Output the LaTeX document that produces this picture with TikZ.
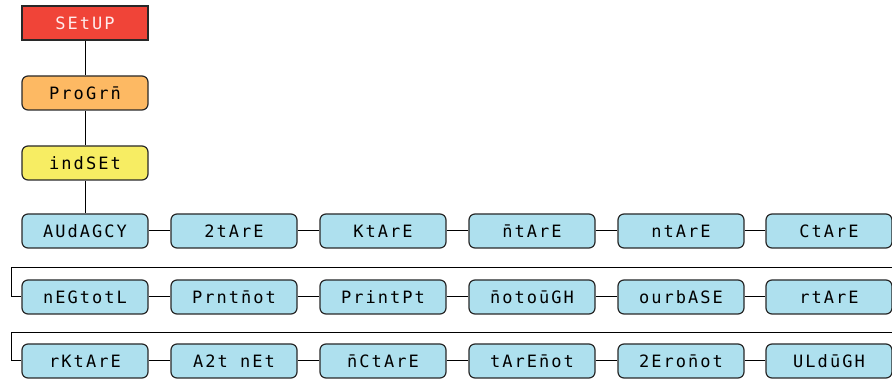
\documentclass[tikz,border=0pt]{standalone}
\usepackage{fontspec}
\newfontfamily\segfont[LetterSpace=12]{DejaVu Sans Mono}
\definecolor{setupred}{RGB}{240,68,56}
\definecolor{progorange}{RGB}{253,185,99}
\definecolor{indyellow}{RGB}{247,237,99}
\definecolor{menublue}{RGB}{174,224,238}
\definecolor{boxline}{RGB}{40,40,40}
\tikzset{
  menubox/.style={draw=boxline, line width=1.2pt, rounded corners=6pt,
    minimum width=126pt, minimum height=34pt, inner sep=0pt,
    font=\segfont\fontsize{17}{17}\selectfont, text=black},
  topbox/.style={menubox, rounded corners=0pt, fill=setupred, text=white!92!red},
  orbox/.style={menubox, fill=progorange},
  yebox/.style={menubox, fill=indyellow},
  blbox/.style={menubox, fill=menublue},
  link/.style={draw=black, line width=1pt}
}
\begin{document}
\begin{tikzpicture}[x=1pt,y=-1pt]
\useasboundingbox (0,0) rectangle (892,379);
\node[topbox] (setup) at (85,23) {SEtUP};
\node[orbox] (progrm) at (85,93) {ProGrn̄};
\node[yebox] (indset) at (85,163) {indSEt};
% row 1
\node[blbox] (a1) at (85,231) {AUdAGCY};
\node[blbox] (a2) at (234,231) {2tArE};
\node[blbox] (a3) at (383,231) {KtArE};
\node[blbox] (a4) at (532,231) {n̄tArE};
\node[blbox] (a5) at (681,231) {ntArE};
\node[blbox] (a6) at (829,231) {CtArE};
% row 2
\node[blbox] (b1) at (85,297) {nEGtotL};
\node[blbox] (b2) at (234,297) {Prntn̄ot};
\node[blbox] (b3) at (383,297) {PrintPt};
\node[blbox] (b4) at (532,297) {n̄otoūGH};
\node[blbox] (b5) at (681,297) {ourbASE};
\node[blbox] (b6) at (829,297) {rtArE};
% row 3
\node[blbox] (c1) at (85,361) {rKtArE};
\node[blbox] (c2) at (234,361) {A2t nEt};
\node[blbox] (c3) at (383,361) {n̄CtArE};
\node[blbox] (c4) at (532,361) {tArEn̄ot};
\node[blbox] (c5) at (681,361) {2Eron̄ot};
\node[blbox] (c6) at (829,361) {ULdūGH};
% wrap coordinates
\coordinate (w1end) at (893,268);
\coordinate (w1turn) at (11,268);
\coordinate (w2end) at (893,333);
\coordinate (w2turn) at (11,333);
% connectors
\draw[link] (setup) -- (progrm);
\draw[link] (progrm) -- (indset);
\draw[link] (indset) -- (a1);
\foreach \r in {a,b,c}{
  \draw[link] (\r1) -- (\r2);
  \draw[link] (\r2) -- (\r3);
  \draw[link] (\r3) -- (\r4);
  \draw[link] (\r4) -- (\r5);
  \draw[link] (\r5) -- (\r6);
}
\draw[link] (w1end) -- (w1turn) |- (b1.west);
\draw[link] (w2end) -- (w2turn) |- (c1.west);
\end{tikzpicture}
\end{document}
